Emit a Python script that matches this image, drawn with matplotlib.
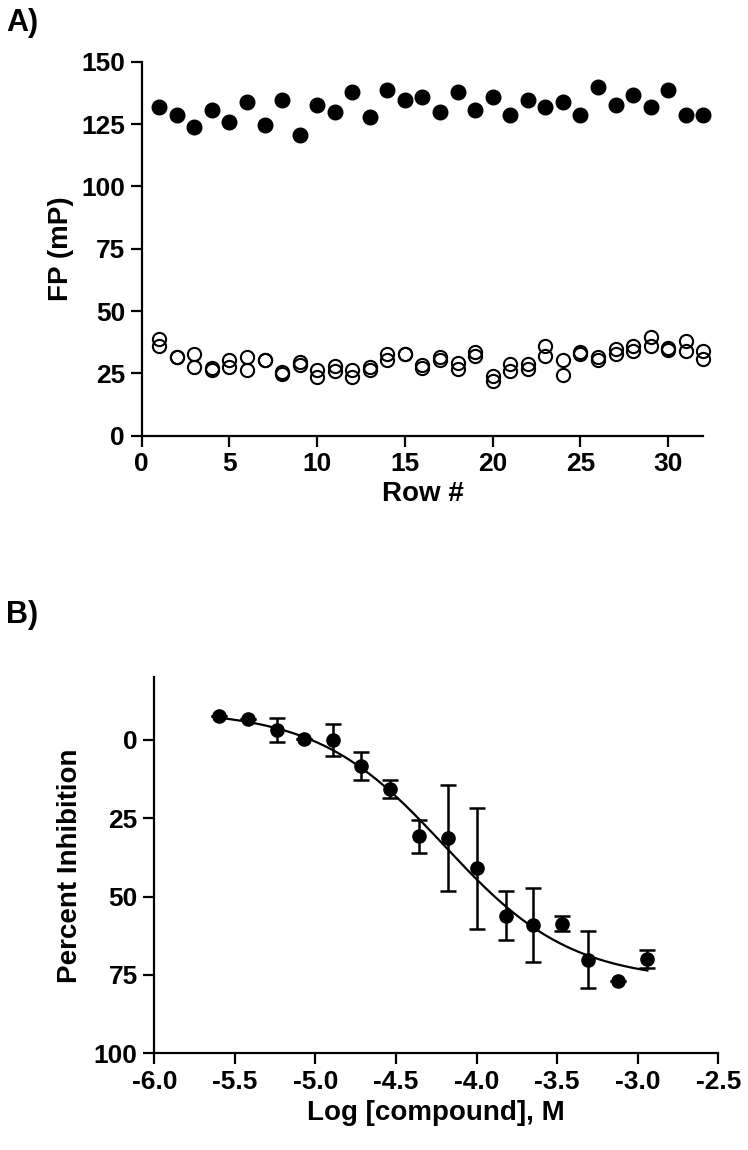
import numpy as np
import matplotlib
matplotlib.use('Agg')
import matplotlib.pyplot as plt

plt.rcParams['font.family'] = ['Liberation Sans', 'DejaVu Sans']
plt.rcParams['font.weight'] = 'bold'
plt.rcParams['axes.unicode_minus'] = False

# panel A: FP per row (filled = bound control, open = free tracer, two wells per row)
rows = np.arange(1, 33)
fp_high = [131.7, 128.8, 123.7, 130.8, 125.7, 133.7, 124.7, 134.8, 120.7, 132.8,
           129.7, 137.7, 127.7, 138.8, 134.8, 135.7, 129.7, 137.7, 130.8, 135.7,
           128.8, 134.8, 131.7, 133.7, 128.8, 139.7, 132.8, 136.8, 131.7, 138.8,
           128.8, 128.8]
fp_low_a = [38.9, 31.4, 32.8, 27.2, 30.5, 31.6, 30.5, 25.5, 29.5, 26.5,
            27.8, 26.5, 27.5, 32.8, 32.8, 28.2, 31.4, 29.0, 33.4, 23.8,
            28.8, 28.8, 35.8, 30.5, 33.4, 31.4, 34.8, 35.8, 39.6, 35.2,
            37.8, 33.8]
fp_low_b = [35.8, 31.4, 27.4, 26.5, 27.4, 26.2, 30.5, 24.7, 28.2, 23.4,
            25.8, 23.5, 26.5, 30.5, 32.8, 27.2, 30.5, 26.8, 31.8, 21.8,
            25.8, 26.8, 31.8, 24.5, 32.8, 30.5, 32.8, 33.8, 35.8, 34.5,
            33.8, 30.8]

# panel B: dose response
log_conc = [-5.60, -5.42, -5.24, -5.07, -4.89, -4.72, -4.54, -4.36,
            -4.18, -4.00, -3.82, -3.65, -3.47, -3.31, -3.12, -2.94]
inhibition = [-7.6, -6.6, -3.2, -0.2, 0.0, 8.3, 15.6, 30.8,
              31.3, 40.9, 56.1, 59.1, 58.6, 70.1, 77.0, 69.9]
inh_err = [0, 0, 3.9, 0, 5.0, 4.4, 2.8, 5.3,
           16.8, 19.3, 7.9, 11.8, 2.4, 9.0, 0, 3.0]
# four-parameter logistic fit
fit_top, fit_bottom, fit_logic50, fit_hill = -9.5, 77.0, -4.2, 1.1

fig = plt.figure(figsize=(7.48, 11.5), dpi=100)

# ---- A ----
ax1 = fig.add_axes([0.1894, 0.6211, 0.7508, 0.3252])
ax1.plot(rows, fp_low_a, 'o', mfc='white', mec='black', mew=1.5, ms=9.5, clip_on=False)
ax1.plot(rows, fp_low_b, 'o', mfc='none', mec='black', mew=1.5, ms=9.5, clip_on=False)
ax1.plot(rows, fp_high, 'o', color='black', ms=10.5, clip_on=False)
ax1.set_xlim(0, 32)
ax1.set_ylim(0, 150)
ax1.set_xticks(range(0, 31, 5))
ax1.set_yticks(range(0, 151, 25))
ax1.set_xlabel('Row #', fontsize=20, fontweight='bold', labelpad=3)
ax1.set_ylabel('FP (mP)', fontsize=20, fontweight='bold', labelpad=5)
fig.text(0.008, 0.993, 'A)', fontsize=22, fontweight='bold', va='top', ha='left')

# ---- B ----
ax2 = fig.add_axes([0.2063, 0.0841, 0.754, 0.3270])
xs = np.linspace(log_conc[0], log_conc[-1], 200)
curve = fit_top + (fit_bottom - fit_top) / (1 + 10 ** ((fit_logic50 - xs) * fit_hill))
ax2.plot(xs, curve, color='black', lw=1.6)
ax2.errorbar(log_conc, inhibition, yerr=inh_err, fmt='o', color='black', ms=9.5,
             elinewidth=1.8, capsize=6, capthick=1.8)
ax2.set_xlim(-6.0, -2.5)
ax2.set_ylim(100, -20)
ax2.set_xticks(np.arange(-6.0, -2.49, 0.5))
ax2.set_xticklabels(['%.1f' % v for v in np.arange(-6.0, -2.49, 0.5)])
ax2.set_yticks(range(0, 101, 25))
ax2.set_xlabel('Log [compound], M', fontsize=20, fontweight='bold', labelpad=4)
ax2.set_ylabel('Percent Inhibition', fontsize=20, fontweight='bold', labelpad=8)
fig.text(0.008, 0.478, 'B)', fontsize=22, fontweight='bold', va='top', ha='left')

for ax in (ax1, ax2):
    ax.spines['top'].set_visible(False)
    ax.spines['right'].set_visible(False)
    ax.spines['left'].set_linewidth(1.6)
    ax.spines['bottom'].set_linewidth(1.6)
    ax.tick_params(width=1.6, length=8, labelsize=19, pad=4)
    for lab in ax.get_xticklabels() + ax.get_yticklabels():
        lab.set_fontweight('bold')

fig.savefig('out.png', dpi=100)
